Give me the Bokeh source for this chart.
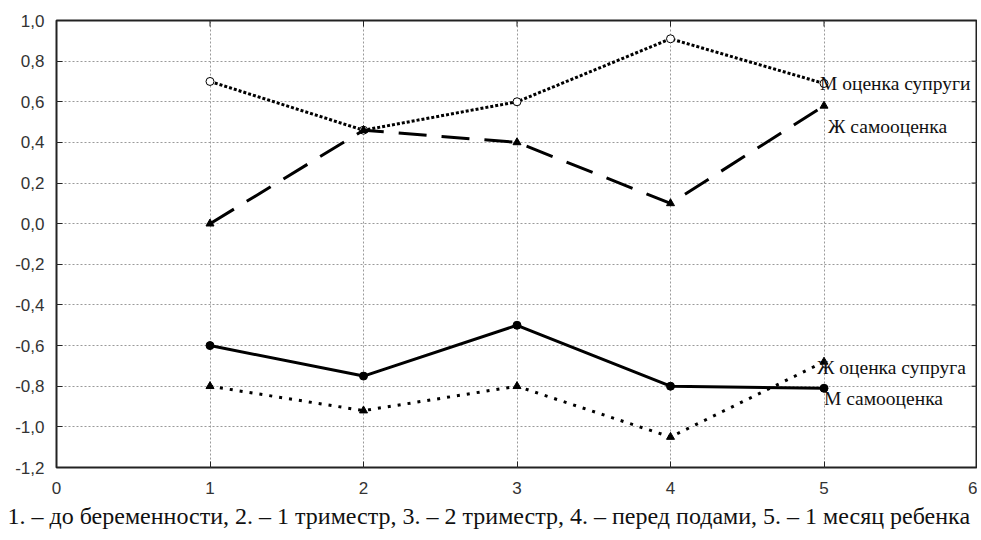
import math
from bokeh.plotting import figure
from bokeh.models import (FixedTicker, CustomJSTickFormatter, Label, Range1d, Title)
from bokeh.embed import file_html
from bokeh.resources import INLINE

stages = [1, 2, 3, 4, 5]
m_spouse = [0.70, 0.46, 0.60, 0.91, 0.69]      # М оценка супруги
f_self = [0.00, 0.46, 0.40, 0.10, 0.58]        # Ж самооценка
m_self = [-0.60, -0.75, -0.50, -0.80, -0.81]   # М самооценка
f_spouse = [-0.80, -0.92, -0.80, -1.05, -0.68] # Ж оценка супруга

x_ticks = [0, 1, 2, 3, 4, 5, 6]
y_ticks = [-1.2, -1.0, -0.8, -0.6, -0.4, -0.2, 0.0, 0.2, 0.4, 0.6, 0.8, 1.0]
caption = "1. \u2013 до беременности, 2. \u2013 1 триместр, 3. \u2013 2 триместр, 4. \u2013 перед подами, 5. \u2013 1 месяц ребенка"
series_labels = ["М оценка супруги", "Ж самооценка", "Ж оценка супруга", "М самооценка"]

x_min, x_max = x_ticks[0], x_ticks[-1]
y_min, y_max = y_ticks[0], y_ticks[-1]

p = figure(width=977, height=538, output_backend="svg", toolbar_location=None,
           x_range=Range1d(x_min, x_max), y_range=Range1d(y_min, y_max),
           min_border_left=56, min_border_right=0, min_border_top=20, min_border_bottom=71)
p.outline_line_color = "#222222"
p.outline_line_width = 2
p.background_fill_color = "white"
p.border_fill_color = "white"

for ax in [p.xaxis[0], p.yaxis[0]]:
    ax.axis_line_color = None
    ax.major_tick_in = 6
    ax.major_tick_out = 0
    ax.minor_tick_line_color = None
    ax.major_tick_line_color = "#222222"
    ax.major_label_text_font = "Liberation Sans"
    ax.major_label_text_font_size = "17px"
    ax.major_label_text_color = "#333333"

p.xaxis.ticker = FixedTicker(ticks=x_ticks)
p.yaxis.ticker = FixedTicker(ticks=y_ticks)
p.yaxis.formatter = CustomJSTickFormatter(code="return tick.toFixed(1).replace('.', ',');")
p.yaxis.major_label_standoff = 12
p.xaxis.major_label_standoff = 14

# caption under the chart
p.add_layout(Title(text=caption, align="left", offset=-49, standoff=8,
                   text_font="Liberation Serif", text_font_size="24px",
                   text_font_style="normal", text_color="#111111"), "below")

# inward tick marks on the top and right frame edges
p.ray(x=x_ticks, y=[y_max] * len(x_ticks), length=6, length_units="screen",
      angle=-math.pi / 2, line_color="#222222", line_width=1)
p.ray(x=[x_max] * len(y_ticks), y=y_ticks, length=6, length_units="screen",
      angle=math.pi, line_color="#222222", line_width=1)

p.grid.grid_line_color = "#9a9a9a"
p.grid.grid_line_dash = "2 2"
p.grid.grid_line_width = 1
p.xgrid.ticker = FixedTicker(ticks=x_ticks)
p.ygrid.ticker = FixedTicker(ticks=y_ticks)

# М оценка супруги: dotted, open circles
p.line(stages, m_spouse, line_color="black", line_width=3, line_dash="3 2")
p.scatter(stages, m_spouse, marker="circle", size=8, fill_color="white", line_color="black", line_width=1)
# Ж самооценка: long dashes, triangles
p.line(stages, f_self, line_color="black", line_width=3, line_dash="28 15")
p.scatter(stages, f_self, marker="triangle", size=8, fill_color="black", line_color="black")
# М самооценка: solid, filled circles
p.line(stages, m_self, line_color="black", line_width=3)
p.scatter(stages, m_self, marker="circle", size=8, fill_color="black", line_color="black")
# Ж оценка супруга: sparse dots, triangles
p.line(stages, f_spouse, line_color="black", line_width=3, line_dash="3 7")
p.scatter(stages, f_spouse, marker="triangle", size=8, fill_color="black", line_color="black")

label_specs = [
    (series_labels[0], m_spouse[-1], -4, 0),
    (series_labels[1], f_self[-1], 4, -21),
    (series_labels[2], f_spouse[-1], -7, -6),
    (series_labels[3], m_self[-1], 0, -10),
]
for txt, yv, dx, dy in label_specs:
    p.add_layout(Label(x=stages[-1], y=yv, x_offset=dx, y_offset=dy, text=txt,
                       text_font="Liberation Serif", text_font_size="19.5px",
                       text_baseline="middle", text_align="left", text_color="#111111"))

open("out.html", "w").write(file_html(p, INLINE))
